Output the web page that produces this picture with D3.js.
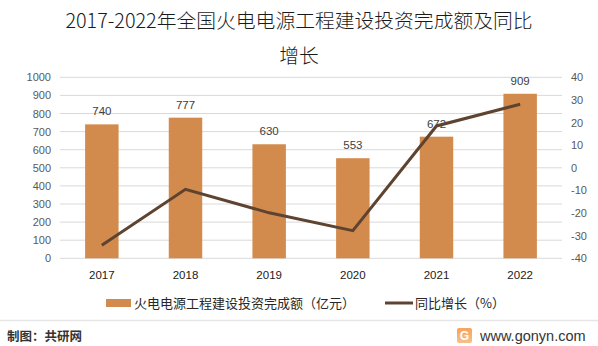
<!DOCTYPE html>
<html><head><meta charset="utf-8">
<script src="https://cdn.jsdelivr.net/npm/d3@7"></script>
<style>body{margin:0;background:#fff}svg{display:block;font-family:"Noto Sans CJK SC","Microsoft YaHei",sans-serif}</style>
</head><body><svg id="c" width="598" height="346"></svg>
<script>
const years = ["2017","2018","2019","2020","2021","2022"];
const investment = [740, 777, 630, 553, 672, 909];
const growth = [-34.2, -9.5, -19.9, -27.8, 18.5, 28.1];
const leftTicks = [0,100,200,300,400,500,600,700,800,900,1000];
const rightTicks = [-40,-30,-20,-10,0,10,20,30,40];
const titleLines = ["2017-2022年全国火电电源工程建设投资完成额及同比","增长"];
const legendLabels = ["火电电源工程建设投资完成额（亿元）","同比增长（%）"];

const svg = d3.select("#c");
const L = 60, R = 562, T = 77.3, B = 258.3;
const barColor = "#D38B4D", lineColor = "#5E4430";
const fmt = d => String(d);

const x = d3.scaleBand().domain(years).range([L, R]).paddingInner(0.6).paddingOuter(0.3);
const yL = d3.scaleLinear().domain([0,1000]).range([B, T]);
const yR = d3.scaleLinear().domain([-40,40]).range([B, T]);

// title
svg.selectAll("text.title").data(titleLines).enter().append("text")
  .attr("x", 299).attr("y", (d,i)=>28 + i*35).attr("text-anchor","middle")
  .attr("font-size", 19.8).attr("fill","#1a1a1a").attr("font-weight",300).text(d=>d);

// gridlines
svg.append("g").selectAll("line").data(leftTicks).enter().append("line")
  .attr("x1", L).attr("x2", R).attr("y1", d=>yL(d)).attr("y2", d=>yL(d))
  .attr("stroke","#d9d9d9").attr("stroke-width",1);

// left axis
const axL = svg.append("g").attr("transform",`translate(${L},0)`)
  .call(d3.axisLeft(yL).tickValues(leftTicks).tickFormat(fmt).tickSize(0).tickPadding(9));
axL.select(".domain").remove();
axL.selectAll("text").attr("font-size",11).attr("fill","#595959").attr("font-family","'Liberation Sans',Arial,sans-serif");

const axR = svg.append("g").attr("transform",`translate(${R},0)`)
  .call(d3.axisRight(yR).tickValues(rightTicks).tickFormat(fmt).tickSize(0).tickPadding(9));
axR.select(".domain").remove();
axR.selectAll("text").attr("font-size",11).attr("fill","#595959").attr("font-family","'Liberation Sans',Arial,sans-serif");

const axX = svg.append("g").attr("transform",`translate(0,${B})`)
  .call(d3.axisBottom(x).tickSize(0).tickPadding(13));
axX.select(".domain").remove();
axX.selectAll("text").attr("font-size",11.5).attr("fill","#1a1a1a").attr("font-family","'Liberation Sans',Arial,sans-serif");

// bars
svg.append("g").selectAll("rect").data(investment).enter().append("rect")
  .attr("x",(d,i)=>x(years[i])).attr("width",x.bandwidth())
  .attr("y",d=>yL(d)).attr("height",d=>B-yL(d)).attr("fill",barColor);

// bar labels
svg.append("g").selectAll("text").data(investment).enter().append("text")
  .attr("x",(d,i)=>x(years[i])+x.bandwidth()/2).attr("y",d=>yL(d)-9)
  .attr("text-anchor","middle").attr("font-size",11.5).attr("fill","#404040")
  .attr("font-family","'Liberation Sans',Arial,sans-serif").text(d=>d);

// line
const line = d3.line().x((d,i)=>x(years[i])+x.bandwidth()/2).y(d=>yR(d));
svg.append("path").datum(growth).attr("d",line).attr("fill","none")
  .attr("stroke",lineColor).attr("stroke-width",3).attr("stroke-linejoin","miter");

// legend
svg.append("rect").attr("x",106).attr("y",299).attr("width",25).attr("height",8).attr("fill",barColor);
svg.append("text").attr("x",134).attr("y",307.5).attr("font-size",13).attr("fill","#262626").text(legendLabels[0]);
svg.append("line").attr("x1",385).attr("x2",413).attr("y1",303).attr("y2",303).attr("stroke",lineColor).attr("stroke-width",3);
svg.append("text").attr("x",415).attr("y",307.5).attr("font-size",13).attr("fill","#262626").text(legendLabels[1]);

// separator & footer
svg.append("line").attr("x1",0).attr("x2",598).attr("y1",320.5).attr("y2",320.5).attr("stroke","#e6e6e6").attr("stroke-width",1.5);
svg.append("text").attr("x",7).attr("y",341).attr("font-size",12.5).attr("font-weight",700).attr("fill","#333").text("制图：共研网");
const grad = svg.append("defs").append("linearGradient").attr("id","lg").attr("x1",0).attr("y1",0).attr("x2",0).attr("y2",1);
grad.append("stop").attr("offset",0).attr("stop-color","#F7A35C");
grad.append("stop").attr("offset",1).attr("stop-color","#F6C08A");
svg.append("rect").attr("x",457).attr("y",328).attr("width",15).attr("height",15).attr("rx",2).attr("fill","url(#lg)");
svg.append("text").attr("x",464.5).attr("y",340).attr("text-anchor","middle").attr("font-size",12).attr("font-weight",700).attr("fill","#fff").attr("font-family","'Liberation Sans',Arial,sans-serif").text("G");
svg.append("text").attr("x",480).attr("y",341).attr("font-size",14.5).attr("fill","#333").attr("font-family","'Liberation Sans',Arial,sans-serif").text("www.gonyn.com");
</script></body></html>
